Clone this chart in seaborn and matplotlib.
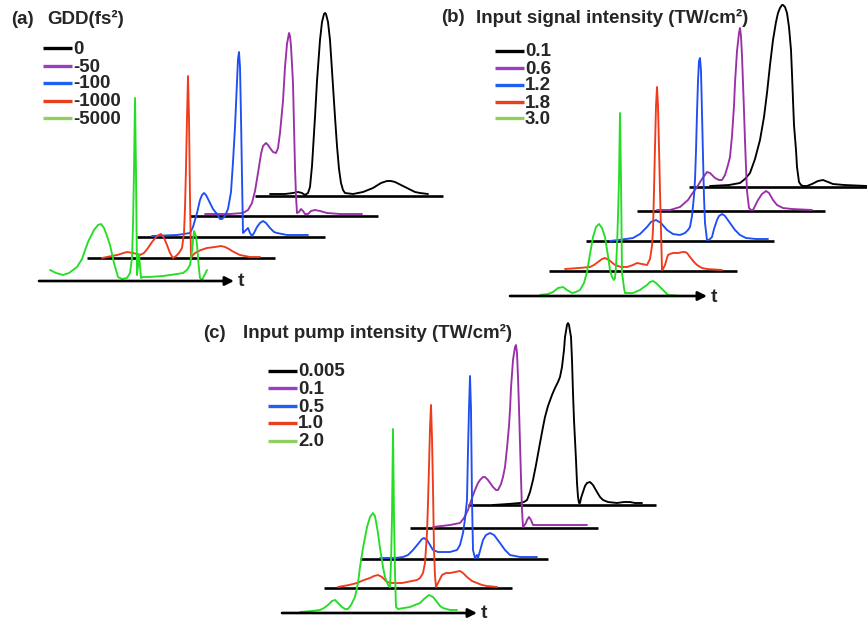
import numpy as np
import matplotlib
matplotlib.use("Agg")
import matplotlib.pyplot as plt
import seaborn as sb

# LABELS
#-----------------------------------
gdd_title = "GDD(fs²)"
gdd_labels = ["0", "-50", "-100", "-1000", "-5000"]
signal_title = "Input signal intensity (TW/cm²)"
signal_labels = ["0.1", "0.6", "1.2", "1.8", "3.0"]
pump_title = "Input pump intensity (TW/cm²)"
pump_labels = ["0.005", "0.1", "0.5", "1.0", "2.0"]

# PULSE SHAPES (time along trace, height above trace baseline)
#-----------------------------------
# (a) GDD
a_t_0 = [15, 30, 38, 43, 47, 50, 53, 55, 57, 60, 62, 65, 67, 69, 70, 71, 73, 75, 78, 80, 82, 84, 86, 88, 90,
         98, 108, 118, 126, 132, 136, 140, 146, 152, 160, 165, 173]
a_h_0 = [2, 2, 3, 4, 3, 1, 3, 9, 30, 79, 115, 156, 174, 182, 183, 182, 174, 156, 110, 79, 50, 27, 13, 6, 3,
         2, 4, 8, 13, 15, 15, 14, 11, 8, 4, 3, 2]
a_t_50 = [15, 40, 53, 58, 62, 65, 68, 71, 73, 76, 78, 80, 83, 86, 88, 90, 93, 95, 97, 99, 100, 101, 103, 104,
          105, 106, 107, 109, 111, 113, 115, 118, 121, 125, 130, 137, 150, 172]
a_h_50 = [2, 2, 3, 6, 13, 25, 43, 62, 70, 73, 71, 68, 64, 63, 68, 83, 115, 149, 172, 183, 180, 170, 133, 90,
          49, 20, 3, 4, 7, 5, 2, 2, 5, 6, 5, 3, 2, 2]
a_t_100 = [15, 40, 53, 56, 60, 63, 65, 67, 69, 72, 76, 80, 83, 85, 88, 91, 94, 96, 98, 100, 101, 102, 103,
           104, 105, 106, 108, 111, 113, 115, 117, 120, 123, 126, 129, 133, 137, 140, 150, 171]
a_h_100 = [1, 2, 4, 10, 24, 37, 42, 44, 42, 36, 28, 23, 18, 18, 21, 28, 45, 75, 110, 155, 178, 185, 170,
           120, 60, 4, 6, 9, 4, 1, 4, 10, 14, 16, 14, 9, 5, 4, 2, 2]
a_t_1000 = [15, 30, 40, 46, 50, 53, 57, 61, 65, 70, 74, 77, 80, 83, 86, 89, 92, 95, 97, 98, 99, 100, 101,
            102, 103, 104, 106, 108, 114, 120, 128, 134, 138, 142, 145, 149, 153, 163, 173]
a_h_1000 = [0, 3, 6, 5, 4, 3, 5, 10, 16, 22, 24, 20, 13, 5, 0, 2, 5, 10, 25, 50, 90, 140, 182,
            140, 60, 0, 3, 5, 8, 10, 11, 12, 11, 9, 7, 5, 3, 1, 1]
a_t_5000 = [11, 17, 24, 30, 38, 43, 49, 55, 59, 62, 65, 68, 71, 75, 79, 83, 88, 91, 93, 94, 95, 96, 97, 98,
            99, 100, 101, 102, 104, 110, 124, 138, 144, 148, 151, 153, 155, 157, 158, 160, 161, 163, 165, 168]
a_h_5000 = [11, 8, 6, 8, 14, 22, 39, 51, 56, 57, 53, 45, 36, 18, 4, 2, 3, 8, 23, 55, 110, 183, 110, 6,
            15, 27, 15, 3, 4, 4, 5, 7, 8, 11, 16, 30, 50, 45, 36, 12, 3, 1, 5, 11]

# (b) signal intensity
b_t_01 = [21, 40, 51, 56, 61, 66, 71, 75, 78, 81, 84, 87, 89, 91, 93, 94, 96, 98, 100, 102, 103, 104, 105,
          107, 108, 110, 112, 114, 118, 123, 129, 134, 139, 144, 155, 178]
b_h_01 = [1, 2, 4, 8, 14, 28, 47, 70, 94, 122, 147, 165, 174, 179, 182, 182, 180, 174, 160, 137, 113, 87, 62,
          37, 20, 5, 2, 1, 1, 3, 6, 7, 5, 3, 2, 1]
b_t_06 = [20, 33, 43, 51, 55, 60, 65, 70, 73, 78, 82, 85, 88, 91, 93, 95, 97, 98, 100, 102, 103, 104, 105,
          106, 107, 108, 109, 110, 112, 114, 116, 118, 121, 125, 129, 132, 136, 140, 146, 155, 175]
b_h_06 = [1, 1, 4, 11, 17, 24, 32, 39, 38, 33, 31, 31, 36, 46, 54, 75, 105, 128, 160, 178, 183, 175, 155,
          128, 100, 70, 44, 20, 3, 1, 1, 5, 11, 17, 20, 18, 11, 6, 3, 2, 1]
b_t_12 = [24, 40, 47, 54, 61, 65, 70, 75, 81, 87, 94, 99, 102, 104, 106, 108, 109, 110, 111, 112, 113, 114,
          115, 116, 117, 118, 119, 121, 123, 126, 128, 131, 133, 136, 139, 144, 149, 154, 160, 170, 182]
b_h_12 = [0, 2, 3, 7, 14, 19, 21, 18, 11, 7, 6, 8, 11, 14, 25, 45, 61, 90, 128, 160, 180, 183, 170,
          128, 85, 44, 18, 1, 1, 4, 12, 21, 25, 27, 25, 18, 11, 6, 3, 2, 2]
b_t_18 = [16, 30, 41, 45, 49, 53, 56, 60, 66, 72, 78, 84, 88, 93, 98, 101, 103, 104, 105, 106, 107, 108,
          109, 110, 111, 112, 113, 114, 116, 118, 119, 121, 124, 129, 134, 136, 138, 141, 145, 148, 153, 158, 173]
b_h_18 = [2, 3, 4, 6, 9, 12, 13, 11, 6, 4, 4, 6, 8, 7, 6, 12, 25, 41, 80, 124, 165, 184, 165,
          124, 80, 41, 1, 2, 6, 13, 16, 17, 18, 18, 19, 19, 18, 14, 9, 6, 3, 2, 1]
b_t_30 = [30, 38, 43, 48, 53, 57, 62, 66, 70, 74, 77, 80, 83, 86, 89, 92, 95, 98, 100, 102, 104, 105, 106,
          107, 108, 109, 110, 111, 112, 113, 114, 115, 119, 123, 130, 134, 137, 140, 143, 146, 150, 154, 158, 170]
b_h_30 = [1, 2, 4, 8, 9, 6, 3, 4, 6, 13, 24, 42, 59, 69, 72, 68, 59, 40, 26, 19, 16, 18, 30,
          49, 80, 116, 183, 116, 23, 16, 8, 3, 3, 3, 6, 9, 11, 14, 15, 13, 9, 5, 1, 0]

# (c) pump intensity
c_t_0005 = [25, 40, 52, 56, 59, 62, 65, 68, 72, 75, 77, 80, 84, 87, 90, 92, 94, 96, 97, 99, 100, 101, 103,
            104, 105, 106, 108, 109, 110, 111, 112, 113, 115, 117, 119, 122, 125, 129, 132, 135, 140, 149,
            156, 162, 167, 174]
c_h_0005 = [0, 1, 2, 3, 5, 13, 25, 40, 62, 78, 88, 99, 110, 117, 123, 128, 138, 155, 168, 180, 182, 180, 168,
            145, 112, 85, 45, 22, 8, 2, 2, 7, 13, 19, 22, 23, 20, 13, 8, 5, 3, 2,
            3, 3, 2, 2]
c_t_01 = [23, 40, 50, 54, 58, 62, 65, 68, 70, 73, 75, 78, 83, 86, 88, 91, 93, 95, 97, 99, 100, 101, 103,
          105, 106, 107, 108, 109, 110, 111, 112, 113, 114, 116, 117, 119, 121, 123, 130, 137, 177]
c_h_01 = [1, 3, 5, 10, 18, 30, 38, 45, 48, 51, 51, 48, 41, 38, 38, 44, 51, 61, 80, 102, 118, 140, 168,
          181, 183, 175, 151, 120, 85, 50, 18, 1, 2, 5, 8, 11, 8, 3, 3, 3, 3]
c_t_05 = [20, 35, 43, 48, 53, 58, 62, 64, 67, 70, 73, 78, 83, 90, 97, 100, 103, 105, 107, 108, 109, 110,
          111, 112, 113, 115, 117, 118, 120, 123, 126, 130, 134, 137, 140, 145, 150, 160, 177]
c_h_05 = [1, 1, 2, 4, 9, 15, 20, 21, 19, 14, 9, 7, 7, 7, 9, 14, 26, 40, 59, 109, 150, 183,
          150, 59, 9, 1, 4, 1, 8, 19, 24, 26, 24, 20, 16, 9, 4, 2, 2]
c_t_10 = [14, 25, 33, 40, 46, 50, 54, 58, 63, 68, 73, 78, 83, 88, 93, 96, 99, 101, 103, 104, 105, 106, 107,
          108, 109, 110, 111, 112, 114, 116, 118, 122, 126, 131, 136, 139, 143, 148, 153, 158, 163, 173]
c_h_10 = [1, 3, 5, 8, 10, 12, 13, 11, 6, 5, 5, 5, 6, 7, 8, 10, 15, 25, 55, 85, 121, 160, 183,
          150, 100, 38, 12, 1, 5, 9, 13, 15, 15, 16, 17, 15, 11, 7, 5, 3, 2, 1]
c_t_20 = [18, 30, 38, 42, 46, 50, 53, 56, 60, 63, 66, 69, 73, 76, 78, 81, 85, 88, 91, 93, 96, 98, 101, 103,
          106, 108, 109, 110, 111, 112, 113, 114, 116, 122, 128, 133, 138, 142, 147, 151, 155, 158, 161, 168, 175]
c_h_20 = [1, 2, 3, 5, 8, 12, 13, 10, 6, 4, 4, 8, 16, 30, 46, 65, 86, 96, 100, 97, 80, 65, 46, 36,
          28, 26, 50, 96, 184, 96, 40, 6, 4, 5, 6, 8, 10, 14, 18, 16, 11, 7, 5, 3, 3]

# STYLE
#-----------------------------------
trace_colors = ["#000000", "#9a2fa8", "#1f4ef2", "#f03a1a", "#25dd25"]
legend_colors = ["#000000", "#9a3fbf", "#2060f0", "#e8401c", "#8fd060"]

sb.set_style("white")
plt.rcParams["font.family"] = ["Liberation Sans", "DejaVu Sans"]
plt.rcParams["font.weight"] = "bold"
plt.rcParams["lines.solid_joinstyle"] = "round"


# DRAW ONE WATERFALL PANEL
#-----------------------------------
def draw_panel(ax, curves, origins, arrow_end, letter, letter_xy, title, title_xy,
               labels, legend_x, legend_y):
    length = 188
    n = len(curves)
    for i, ((t, h), (x0, y0)) in enumerate(zip(curves, origins)):
        if i < n - 1:
            ax.plot([x0, x0 + length], [y0, y0], color="black", lw=1.9,
                    solid_capstyle="butt")
        else:
            ax.annotate("", xy=(arrow_end, y0), xytext=(x0, y0),
                        arrowprops=dict(arrowstyle="-|>", color="black", lw=1.9,
                                        mutation_scale=13, shrinkA=0, shrinkB=0))
            ax.text(arrow_end + 4, y0 + 1, "t", fontsize=14, fontweight="bold",
                    ha="left", va="center")
        sb.lineplot(x=np.array(t) + x0, y=y0 - np.array(h), ax=ax, sort=False,
                    estimator=None, color=trace_colors[i], lw=1.35)

    ax.text(letter_xy[0], letter_xy[1], letter, fontsize=13.5, fontweight="bold",
            ha="left", va="center")
    ax.text(title_xy[0], title_xy[1], title, fontsize=13.5, fontweight="bold",
            ha="left", va="center")
    for i, lab in enumerate(labels):
        y = legend_y[i]
        ax.plot([legend_x, legend_x + 29], [y, y], color=legend_colors[i], lw=2.4,
                solid_capstyle="butt")
        ax.text(legend_x + 30, y + 1, lab, fontsize=13.5, fontweight="bold",
                ha="left", va="center")


# MAIN
#-----------------------------------
def main():
    fig = plt.figure(figsize=(8.67, 6.24), dpi=100)
    ax = fig.add_axes([0, 0, 1, 1])
    ax.set_xlim(0, 867)
    ax.set_ylim(624, 0)
    ax.axis("off")

    draw_panel(ax,
               [(a_t_0, a_h_0), (a_t_50, a_h_50), (a_t_100, a_h_100),
                (a_t_1000, a_h_1000), (a_t_5000, a_h_5000)],
               [(255, 196), (190, 216), (137, 237), (87, 258), (39, 281)],
               234, "(a)", (11, 19), gdd_title, (47, 19),
               gdd_labels, 43, [48, 66, 83, 101, 118])

    draw_panel(ax,
               [(b_t_01, b_h_01), (b_t_06, b_h_06), (b_t_12, b_h_12),
                (b_t_18, b_h_18), (b_t_30, b_h_30)],
               [(689, 187), (637, 211), (586, 241), (549, 271), (510, 296)],
               707, "(b)", (441, 18), signal_title, (476, 18),
               signal_labels, 495, [51, 68, 85, 102, 118])

    draw_panel(ax,
               [(c_t_0005, c_h_0005), (c_t_01, c_h_01), (c_t_05, c_h_05),
                (c_t_10, c_h_10), (c_t_20, c_h_20)],
               [(468, 505), (410, 528), (360, 559), (324, 588), (282, 613)],
               477, "(c)", (203, 333), pump_title, (243, 333),
               pump_labels, 268, [371, 388, 406, 423, 441])

    fig.savefig("out.png", dpi=100)


if __name__ == "__main__":
    main()
